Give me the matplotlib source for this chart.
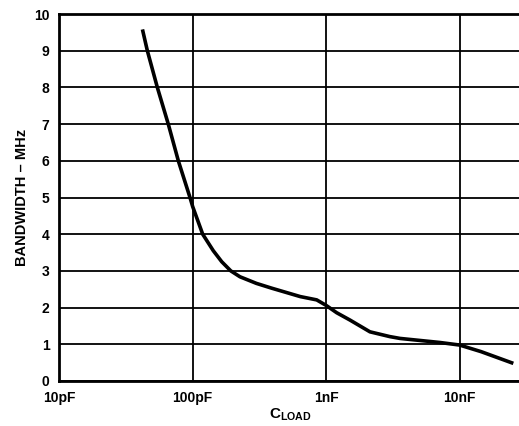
import matplotlib
matplotlib.use("Agg")
from matplotlib import pyplot as plt

plt.rcParams['font.family'] = ['Liberation Sans', 'DejaVu Sans']
plt.rcParams['font.weight'] = 'bold'
plt.rcParams['mathtext.fontset'] = 'custom'
plt.rcParams['mathtext.rm'] = 'Liberation Sans:bold'
plt.rcParams['mathtext.bf'] = 'Liberation Sans:bold'

# load capacitance (pF) vs bandwidth (MHz)
cload_pf = [42, 45.7, 54.3, 65.6, 78, 95.4, 100, 118.8, 142.6, 165, 193, 226, 300, 390,
            640, 850, 1000, 1200, 1510, 2130, 3000, 3580, 7100, 10000, 14500, 25300]
bw_mhz = [9.58, 9.0, 8.0, 7.0, 6.0, 5.0, 4.75, 4.0, 3.55, 3.25, 3.0, 2.84, 2.66, 2.53,
          2.3, 2.21, 2.06, 1.86, 1.66, 1.34, 1.21, 1.16, 1.05, 0.98, 0.8, 0.48]

xtick_vals = [10, 100, 1000, 10000]
xtick_labels = ["10pF", "100pF", "1nF", "10nF"]
ytick_vals = list(range(0, 11))

fig = plt.figure(figsize=(5.19, 4.26), dpi=100)
ax = fig.add_axes([59.3 / 519, 1 - 381 / 426, 1 - 59.3 / 519, (381 - 14) / 426])

ax.plot(cload_pf, bw_mhz, color="black", lw=2.6, solid_joinstyle="round",
        solid_capstyle="butt")

ax.set_xscale("log")
ax.set_xlim(10, 27900)
ax.set_ylim(0, 10)
ax.set_xticks(xtick_vals)
ax.set_xticklabels(xtick_labels)
ax.xaxis.set_minor_locator(matplotlib.ticker.NullLocator())
ax.set_yticks(ytick_vals)
ax.tick_params(length=0, labelsize=10, pad=7)
ax.grid(True, color="black", lw=1.3)

for side in ["left", "top", "bottom"]:
    ax.spines[side].set_linewidth(2)
ax.spines["right"].set_visible(False)

ax.set_ylabel("BANDWIDTH \u2013 MHz", fontsize=10.5, fontweight="bold", labelpad=3.5)
# x label placed by hand so the subscript stays inside the figure
fig.text(290 / 519, 1 - 418 / 426, r"C$_{\mathrm{LOAD}}$", fontsize=11,
         fontweight="bold", ha="center", va="baseline")

fig.savefig("out.png", dpi=100)
